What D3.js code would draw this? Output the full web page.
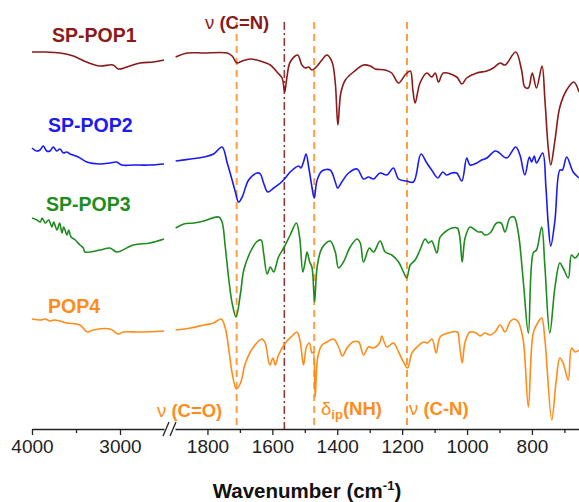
<!DOCTYPE html>
<html><head><meta charset="utf-8">
<script src="https://cdn.jsdelivr.net/npm/d3@7"></script>
<style>
html,body{margin:0;padding:0;background:#fff;}
text{font-family:Arial,"Liberation Sans",sans-serif;}
</style></head>
<body><svg id="chart" width="579" height="502"></svg>
<script>
// ---- data: wavenumber (cm-1) and offset transmittance (a.u.) ----
const seriesNames = ["SP-POP1", "SP-POP2", "SP-POP3", "POP4"];
const seriesColors = ["#8B1A1A", "#1A1AF5", "#1E8C1E", "#FF8C1A"];

const pop1Left = [[4000,377],[3870,377],[3680,376],[3530,373],[3380,367],[3230,363],[3080,364],[3020,360],[2920,362],[2770,366],[2620,367],[2500,369]];
const pop1Right = [[1898,372],[1862,376],[1812,376],[1739,376],[1724,373],[1709,366],[1693,368],[1668,370],[1637,368],[1606,364],[1586,357],[1570,351],[1562,337],[1555,352],[1545,367],[1522,374],[1509,364],[1498,361],[1488,362],[1478,359],[1462,363],[1447,369],[1432,374],[1416,367],[1406,346],[1398,304],[1389,336],[1375,349],[1350,357],[1319,364],[1298,363],[1283,360],[1252,359],[1232,356],[1211,346],[1191,354],[1175,358],[1167,339],[1160,326],[1145,346],[1124,356],[1109,352],[1098,356],[1088,347],[1073,356],[1032,352],[1016,345],[1001,351],[970,356],[939,358],[919,361],[898,366],[883,364],[850,377],[832,359],[822,342],[811,341],[799,356],[786,341],[769,363],[760,329],[750,282],[742,264],[729,289],[714,322],[693,339],[671,347],[655,337]];

const pop2Left = [[4000,281],[3950,278],[3909,279],[3872,283],[3833,278],[3795,278],[3758,282],[3720,278],[3682,280],[3644,276],[3606,277],[3568,275],[3474,272],[3378,267],[3227,265],[3114,266],[3038,267],[2981,264],[2849,264],[2659,264],[2500,265]];
const pop2Right = [[1898,268],[1852,270],[1811,272],[1781,275],[1755,282],[1739,266],[1724,249],[1714,237],[1704,227],[1693,232],[1673,249],[1647,256],[1637,255],[1627,246],[1614,237],[1596,241],[1575,246],[1560,251],[1545,257],[1519,263],[1512,261],[1504,267],[1496,275],[1488,262],[1478,242],[1471,231],[1462,249],[1447,258],[1422,259],[1406,247],[1399,241],[1386,247],[1365,256],[1339,260],[1319,250],[1304,252],[1288,250],[1268,256],[1247,254],[1227,261],[1211,250],[1186,248],[1165,247],[1142,275],[1124,266],[1109,259],[1090,251],[1075,257],[1063,254],[1047,256],[1032,256],[1016,248],[1001,271],[991,264],[970,266],[955,269],[939,271],[914,278],[904,277],[878,271],[850,282],[837,274],[822,254],[808,272],[801,267],[793,273],[786,266],[767,276],[757,242],[750,206],[742,183],[729,209],[714,259],[706,259],[693,272],[673,257],[655,251]];

const pop3Left = [[4000,211],[3943,209],[3905,207],[3886,211],[3849,206],[3811,209],[3773,202],[3754,207],[3716,199],[3686,206],[3659,196],[3640,202],[3602,194],[3583,199],[3556,192],[3508,189],[3455,184],[3417,181],[3398,177],[3227,179],[3114,181],[3038,177],[2849,184],[2659,186],[2500,190]];
const pop3Right = [[1898,201],[1873,205],[1842,206],[1811,208],[1765,212],[1755,207],[1745,182],[1734,149],[1724,126],[1712,112],[1698,136],[1688,159],[1668,177],[1649,187],[1635,189],[1627,176],[1616,155],[1606,162],[1596,157],[1581,172],[1565,181],[1545,194],[1526,206],[1516,192],[1506,157],[1498,169],[1493,177],[1485,167],[1478,162],[1470,127],[1462,162],[1447,181],[1422,188],[1406,177],[1396,161],[1381,167],[1360,182],[1339,190],[1329,186],[1319,167],[1301,181],[1288,177],[1268,188],[1252,177],[1232,174],[1211,167],[1196,157],[1186,151],[1175,164],[1160,169],[1145,179],[1129,190],[1119,186],[1109,188],[1093,176],[1083,192],[1068,197],[1047,201],[1030,201],[1022,191],[1015,167],[1006,191],[991,202],[975,199],[965,197],[955,197],[945,194],[929,196],[909,206],[895,206],[883,197],[868,211],[855,212],[842,196],[827,149],[811,96],[796,176],[786,179],[770,202],[760,162],[745,96],[729,142],[714,166],[704,161],[688,151],[678,174],[667,171],[655,176]];

const pop4Left = [[4000,110],[3900,109],[3850,110],[3795,108],[3750,109],[3682,108],[3606,106],[3455,104],[3372,97],[3303,99],[3114,100],[3019,95],[2962,97],[2773,97],[2500,98]];
const pop4Right = [[1898,99],[1852,101],[1811,104],[1781,106],[1758,110],[1745,101],[1734,79],[1724,56],[1711,40],[1698,46],[1683,66],[1658,82],[1632,90],[1622,86],[1608,64],[1598,71],[1591,64],[1581,74],[1560,86],[1539,93],[1524,97],[1514,87],[1504,64],[1495,82],[1486,86],[1478,76],[1474,77],[1468,32],[1460,72],[1447,84],[1432,87],[1411,90],[1396,82],[1384,73],[1370,81],[1352,87],[1334,87],[1319,74],[1304,82],[1288,81],[1268,87],[1263,93],[1247,82],[1227,86],[1211,77],[1196,67],[1183,61],[1170,76],[1154,82],[1134,87],[1122,86],[1108,90],[1095,76],[1083,92],[1058,96],[1030,97],[1024,87],[1015,66],[1006,87],[991,97],[972,96],[960,93],[945,96],[929,94],[914,97],[898,104],[883,97],[868,107],[855,110],[842,107],[827,89],[811,22],[796,96],[781,107],[770,111],[760,89],[739,9],[726,46],[714,71],[704,66],[688,49],[678,81],[667,77],[655,79]];

const leftSegments = [pop1Left, pop2Left, pop3Left, pop4Left];
const rightSegments = [pop1Right, pop2Right, pop3Right, pop4Right];

const leftMajorTicks = [4000, 3000];
const leftMinorTicks = [3500];
const rightMajorTicks = [1800, 1600, 1400, 1200, 1000, 800];
const rightMinorTicks = [1700, 1500, 1300, 1100, 900, 700];

const bandLines = [
  {wn: 1710, type: "dash", color: "#FFA040"},
  {wn: 1563, type: "dashdot", color: "#8B3A3A"},
  {wn: 1471, type: "dash", color: "#FFA040"},
  {wn: 1185, type: "dash", color: "#FFA040"}
];

// ---- drawing ----
const svg = d3.select("#chart");
const axisY = 429;
const xL = d3.scaleLinear().domain([4000, 2500]).range([32, 164]);
const xR = d3.scaleLinear().domain([1900, 655]).range([175, 579]);
const y = d3.scaleLinear().domain([0, 408]).range([axisY, 21]);

// band lines
bandLines.forEach(b => {
  svg.append("line")
    .attr("x1", xR(b.wn)).attr("x2", xR(b.wn))
    .attr("y1", y(407)).attr("y2", axisY)
    .attr("stroke", b.color)
    .attr("stroke-width", b.type === "dash" ? 2 : 1.6)
    .attr("stroke-dasharray", b.type === "dash" ? "7,5" : "8,3,2,3");
});

// spectra
const lineL = d3.line().x(d => xL(d[0])).y(d => y(d[1])).curve(d3.curveCatmullRom.alpha(0.5));
const lineR = d3.line().x(d => xR(d[0])).y(d => y(d[1])).curve(d3.curveCatmullRom.alpha(0.5));
seriesNames.forEach((name, i) => {
  svg.append("path").attr("d", lineL(leftSegments[i]))
    .attr("fill", "none").attr("stroke", seriesColors[i]).attr("stroke-width", 1.6).attr("stroke-linejoin", "round");
  svg.append("path").attr("d", lineR(rightSegments[i]))
    .attr("fill", "none").attr("stroke", seriesColors[i]).attr("stroke-width", 1.6).attr("stroke-linejoin", "round");
});

// axes
function drawAxis(scale, major, minor) {
  const gMaj = svg.append("g").attr("transform", `translate(0,${axisY})`)
    .call(d3.axisBottom(scale).tickValues(major).tickSize(6).tickSizeOuter(0).tickPadding(5).tickFormat(d3.format("d")));
  gMaj.select(".domain").attr("stroke", "#222").attr("stroke-width", 1.3);
  gMaj.selectAll(".tick line").attr("stroke", "#222").attr("stroke-width", 1.3);
  gMaj.selectAll(".tick text").attr("font-size", 19).attr("fill", "#222")
    .style("font-family", "Arial, 'Liberation Sans', sans-serif");
  const gMin = svg.append("g").attr("transform", `translate(0,${axisY})`)
    .call(d3.axisBottom(scale).tickValues(minor).tickSize(4).tickSizeOuter(0).tickFormat(""));
  gMin.select(".domain").remove();
  gMin.selectAll(".tick line").attr("stroke", "#222").attr("stroke-width", 1.3);
}
drawAxis(xL, leftMajorTicks, leftMinorTicks);
drawAxis(xR, rightMajorTicks, rightMinorTicks);

// break marks
[[163, 169], [170, 176]].forEach(([a, b]) => {
  svg.append("line").attr("x1", a).attr("y1", axisY + 7).attr("x2", b).attr("y2", axisY - 7)
    .attr("stroke", "#222").attr("stroke-width", 1.3);
});

// series labels
const labelPos = [[52, 42], [48, 132], [46, 211], [48, 313]];
seriesNames.forEach((name, i) => {
  svg.append("text").attr("x", labelPos[i][0]).attr("y", labelPos[i][1])
    .attr("font-size", 19.5).attr("font-weight", "bold").attr("fill", seriesColors[i]).text(name);
});

// band annotations
function annot(x, yy, color, greek, rest, sub) {
  const t = svg.append("text").attr("x", x).attr("y", yy).attr("fill", color).attr("font-size", 18.5);
  t.append("tspan").attr("font-weight", "normal").text(greek);
  if (sub) {
    t.append("tspan").attr("font-weight", "bold").attr("font-size", 13).attr("dy", 4).text(sub);
    t.append("tspan").attr("font-weight", "bold").attr("dy", -4).text(rest);
  } else {
    t.append("tspan").attr("font-weight", "bold").text(" " + rest);
  }
}
annot(205, 29, "#8B1A1A", "ν", "(C=N)");
annot(157, 417, "#FF8C1A", "ν", "(C=O)");
annot(321, 415, "#FF8C1A", "δ", "(NH)", "ip");
annot(409, 415, "#FF8C1A", "ν", "(C-N)");

// axis title
const title = svg.append("text").attr("x", 307).attr("y", 498).attr("text-anchor", "middle")
  .attr("font-size", 20.5).attr("font-weight", "bold").attr("fill", "#111");
title.append("tspan").text("Wavenumber (cm");
title.append("tspan").attr("font-size", 13).attr("dy", -8).text("-1");
title.append("tspan").attr("dy", 8).text(")");
</script>
</body></html>
